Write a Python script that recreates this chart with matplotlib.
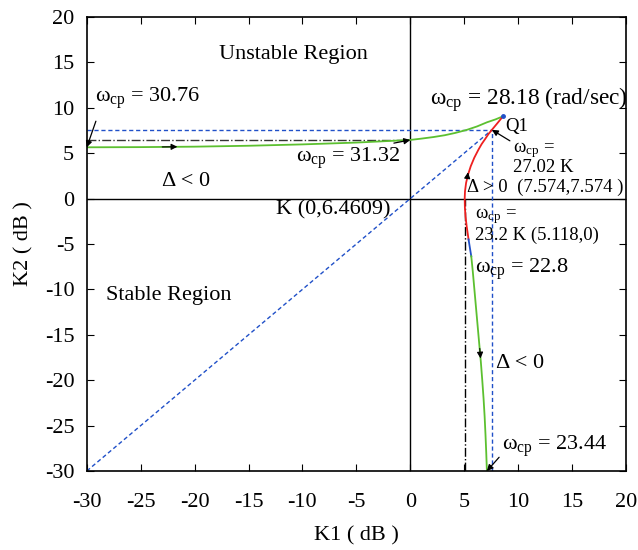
import matplotlib
matplotlib.use("Agg")
import matplotlib.pyplot as plt
import numpy as np

plt.rcParams['font.family'] = ['Liberation Serif', 'DejaVu Serif']
plt.rcParams['mathtext.fontset'] = 'custom'
plt.rcParams['mathtext.rm'] = 'Liberation Serif'
plt.rcParams['mathtext.it'] = 'Liberation Serif:italic'

# Data
Q1 = (7.574, 7.574)
K_pt = (0.0, 6.4609)
P23 = (5.118, 0.0)
END_PT = (8.6, 9.06)

green_upper_x = [-30, -25, -20, -15, -10, -5, 0, 1.0, 2.16, 3.2, 4.2, 5.26, 6.2, 7.11, 7.9, 8.6]
green_upper_y = [5.65, 5.67, 5.72, 5.82, 5.97, 6.17, 6.46, 6.6, 6.78, 6.98, 7.24, 7.574, 7.95, 8.4, 8.72, 9.06]

red_x = [8.6, 8.08, 7.574, 7.25, 6.97, 6.62, 6.33, 5.94, 5.61, 5.35, 5.18, 5.08, 5.05, 5.07, 5.13, 5.24, 5.41]
red_y = [9.06, 8.3, 7.574, 7.1, 6.6, 6.0, 5.4, 4.5, 3.56, 2.6, 1.73, 0.8, 0.0, -1.0, -2.0, -3.1, -4.5]

blue_seg_x = [5.41, 5.53, 5.66]
blue_seg_y = [-4.5, -5.4, -6.35]

green_lower_x = [5.66, 5.8, 5.95, 6.1, 6.25, 6.4, 6.55, 6.68, 6.8, 6.9, 6.98, 7.05, 7.11]
green_lower_y = [-6.35, -8.0, -10.0, -12.0, -14.0, -16.0, -18.0, -20.0, -22.0, -24.0, -26.0, -28.0, -30.0]

xticks = [-30, -25, -20, -15, -10, -5, 0, 5, 10, 15, 20]
yticks = [-30, -25, -20, -15, -10, -5, 0, 5, 10, 15, 20]

BLUE = '#2050c8'
GREEN = '#5cc030'
RED = '#ee2020'

fig = plt.figure(figsize=(6.38, 5.5), dpi=100)
ax = fig.add_axes([0.136, 0.1436, 0.845, 0.8255])
ax.set_xlim(-30, 20)
ax.set_ylim(-30, 20)

# axes lines
ax.axhline(0, color='black', lw=1.0)
ax.axvline(0, color='black', lw=1.0)

# blue dashed lines
ax.plot([-30, Q1[0]], [-30, Q1[1]], color=BLUE, lw=1.0, ls=(0, (3, 2)))
ax.plot([-30, Q1[0]], [Q1[1], Q1[1]], color=BLUE, lw=1.0, ls=(0, (3, 2)))
ax.plot([Q1[0], Q1[0]], [-30, Q1[1]], color=BLUE, lw=1.0, ls=(0, (3, 2)))

# black dash-dot lines
ax.plot([-30, K_pt[0]], [K_pt[1], K_pt[1]], color='#333333', ls='-.', lw=1.0)
ax.plot([P23[0], P23[0]], [-30, 0], color='black', ls='-.', lw=1.0)

# curves
ax.plot(green_upper_x, green_upper_y, color=GREEN, lw=1.3)
ax.plot(red_x, red_y, color=RED, lw=1.3)
ax.plot(blue_seg_x, blue_seg_y, color=BLUE, lw=1.3)
ax.plot(green_lower_x, green_lower_y, color=GREEN, lw=1.3)
ax.plot([END_PT[0]], [END_PT[1]], marker='o', ms=2.5, color=BLUE)

# arrowheads on curves
def head(x0, y0, x1, y1):
    ax.annotate('', xy=(x1, y1), xytext=(x0, y0),
                arrowprops=dict(arrowstyle='-|>', color='black', lw=0.8,
                                mutation_scale=9, shrinkA=0, shrinkB=0))

head(-23, 5.69, -21.6, 5.71)
head(5.28, 2.2, 5.36, 2.9)
head(6.45, -16.5, 6.52, -17.6)

W = 'ω$_{\\rm cp}$'
fs = 16
fs2 = 13.5
ax.text(-10.8, 15.9, 'Unstable Region', fontsize=fs, ha='center', va='center')
ax.text(-22.4, -10.7, 'Stable Region', fontsize=fs, ha='center', va='center')

ax.annotate(W + ' = 30.76', xy=(-30, 5.65), xytext=(-29.2, 11.1),
            fontsize=fs, ha='left', va='center',
            arrowprops=dict(arrowstyle='-|>', color='black', lw=0.9, mutation_scale=9,
                            shrinkA=6, shrinkB=0, relpos=(0.04, 0.0)))
ax.text(-23, 1.9, 'Δ < 0', fontsize=fs, ha='left', va='center')
ax.annotate(W + ' = 31.32', xy=(0, 6.46), xytext=(-0.9, 4.4),
            fontsize=fs, ha='right', va='center',
            arrowprops=dict(arrowstyle='-|>', color='black', lw=0.9, mutation_scale=9,
                            shrinkA=0, shrinkB=0, relpos=(0.8, 1.0)))
ax.text(-1.8, -1.2, 'K (0,6.4609)', fontsize=fs, ha='right', va='center')

ax.text(1.8, 10.9, W + ' = 28.18 (rad/sec)', fontsize=16.8, ha='left', va='center')
ax.text(8.8, 7.9, 'Q1', fontsize=fs2, ha='left', va='center')
ax.annotate(W + ' =', xy=Q1, xytext=(9.5, 5.3),
            fontsize=fs2, ha='left', va='center',
            arrowprops=dict(arrowstyle='-|>', color='black', lw=0.9, mutation_scale=9,
                            shrinkA=0, shrinkB=0, relpos=(0.0, 0.9)))
ax.text(9.5, 3.4, '27.02 K', fontsize=fs2, ha='left', va='center')
ax.text(5.3, 1.2, 'Δ > 0  (7.574,7.574 )', fontsize=fs2, ha='left', va='center')
ax.text(6.0, -1.9, W + ' =', fontsize=fs2, ha='left', va='center')
ax.text(6.0, -4.0, '23.2 K (5.118,0)', fontsize=fs2, ha='left', va='center')
ax.text(6.0, -7.8, W + ' = 22.8', fontsize=fs, ha='left', va='center')
ax.text(8.0, -18.2, 'Δ < 0', fontsize=fs, ha='left', va='center')
ax.annotate(W + ' = 23.44', xy=(7.11, -30), xytext=(8.5, -27.3),
            fontsize=fs, ha='left', va='center',
            arrowprops=dict(arrowstyle='-|>', color='black', lw=0.9, mutation_scale=9,
                            shrinkA=0, shrinkB=0, relpos=(0.0, 0.2)))

ax.set_xticks(xticks)
ax.set_yticks(yticks)
ax.set_xticklabels([str(t) for t in xticks])
ax.set_yticklabels([str(t) for t in yticks])
ax.tick_params(direction='in', top=True, right=True, labelsize=16, length=5)
ax.tick_params(axis='x', pad=16)
ax.tick_params(axis='y', pad=9)
for s in ax.spines.values():
    s.set_linewidth(1.2)
ax.set_xlabel('K1 ( dB )', fontsize=16, labelpad=10)
ax.set_ylabel('K2 ( dB )', fontsize=16, labelpad=8)

fig.savefig('out.png', dpi=100)
